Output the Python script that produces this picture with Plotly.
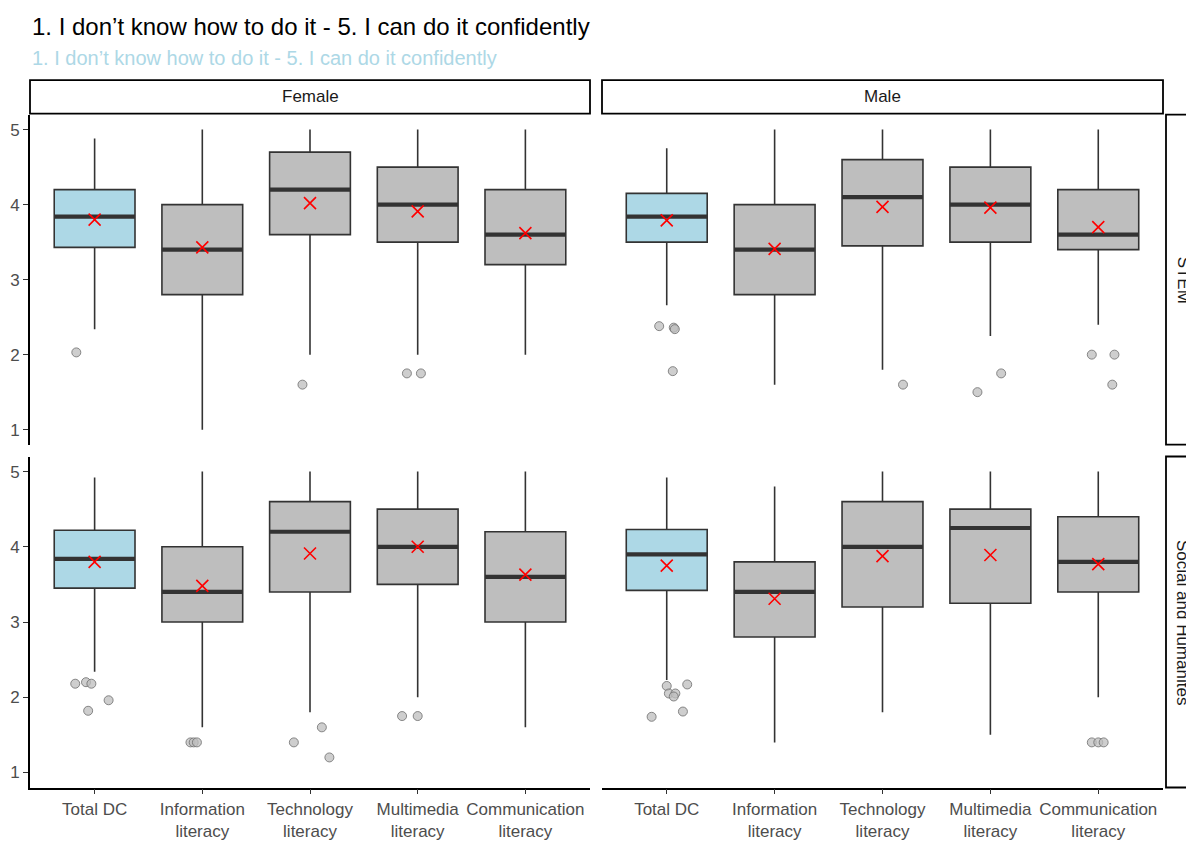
import plotly.graph_objects as go

W, H = 1186, 841

# ---- data -------------------------------------------------------------
categories = ["Total DC", "Information<br>literacy", "Technology<br>literacy",
              "Multimedia<br>literacy", "Communication<br>literacy"]
genders = ["Female", "Male"]
fields = ["STEM", "Social and Humanites"]

# Female / STEM
f_stem_lower = [2.34, 1.0, 2.0, 2.0, 2.0]
f_stem_q1 = [3.43, 2.8, 3.6, 3.5, 3.2]
f_stem_median = [3.84, 3.4, 4.2, 4.0, 3.6]
f_stem_q3 = [4.2, 4.0, 4.7, 4.5, 4.2]
f_stem_upper = [4.88, 5.0, 5.0, 5.0, 5.0]
f_stem_mean = [3.80, 3.43, 4.02, 3.91, 3.62]
f_stem_out_cat = [0, 2, 3, 3]
f_stem_out_val = [2.03, 1.6, 1.75, 1.75]
f_stem_out_jit = [-0.17, -0.07, -0.10, 0.03]

# Male / STEM
m_stem_lower = [2.66, 1.6, 1.8, 2.25, 2.4]
m_stem_q1 = [3.5, 2.8, 3.45, 3.5, 3.4]
m_stem_median = [3.84, 3.4, 4.1, 4.0, 3.6]
m_stem_q3 = [4.15, 4.0, 4.6, 4.5, 4.2]
m_stem_upper = [4.75, 5.0, 5.0, 5.0, 5.0]
m_stem_mean = [3.79, 3.41, 3.97, 3.96, 3.70]
m_stem_out_cat = [0, 0, 0, 0, 2, 3, 3, 4, 4, 4]
m_stem_out_val = [2.38, 2.36, 2.34, 1.78, 1.6, 1.75, 1.5, 2.0, 2.0, 1.6]
m_stem_out_jit = [-0.07, 0.065, 0.075, 0.056, 0.19, 0.10, -0.12, -0.06, 0.15, 0.13]

# Female / Social and Humanities
f_soc_lower = [2.34, 1.6, 1.8, 2.0, 1.6]
f_soc_q1 = [3.45, 3.0, 3.4, 3.5, 3.0]
f_soc_median = [3.84, 3.4, 4.2, 4.0, 3.6]
f_soc_q3 = [4.22, 4.0, 4.6, 4.5, 4.2]
f_soc_upper = [4.92, 5.0, 5.0, 5.0, 5.0]
f_soc_mean = [3.80, 3.48, 3.91, 4.0, 3.63]
f_soc_out_cat = [0, 0, 0, 0, 0, 1, 1, 1, 2, 2, 2, 3, 3]
f_soc_out_val = [2.18, 2.20, 2.18, 1.96, 1.82, 1.4, 1.4, 1.4, 1.4, 1.6, 1.2, 1.75, 1.75]
f_soc_out_jit = [-0.18, -0.08, -0.03, 0.13, -0.06, -0.11, -0.08, -0.05, -0.15, 0.11, 0.18, -0.145, 0.0]

# Male / Social and Humanities
m_soc_lower = [2.23, 1.4, 1.8, 1.5, 2.0]
m_soc_q1 = [3.42, 2.8, 3.2, 3.25, 3.4]
m_soc_median = [3.9, 3.4, 4.0, 4.25, 3.8]
m_soc_q3 = [4.23, 3.8, 4.6, 4.5, 4.4]
m_soc_upper = [4.92, 4.8, 5.0, 5.0, 5.0]
m_soc_mean = [3.75, 3.31, 3.875, 3.89, 3.77]
m_soc_out_cat = [0, 0, 0, 0, 0, 0, 0, 4, 4, 4]
m_soc_out_val = [2.15, 2.17, 2.05, 2.05, 2.01, 1.81, 1.74, 1.4, 1.4, 1.4]
m_soc_out_jit = [0.0, 0.19, 0.02, 0.08, 0.065, 0.15, -0.14, -0.06, 0.0, 0.05]

panels = [
    # (axis suffix, lower, q1, median, q3, upper, mean, out_cat, out_val, out_jit)
    ("", f_stem_lower, f_stem_q1, f_stem_median, f_stem_q3, f_stem_upper, f_stem_mean,
     f_stem_out_cat, f_stem_out_val, f_stem_out_jit),
    ("2", m_stem_lower, m_stem_q1, m_stem_median, m_stem_q3, m_stem_upper, m_stem_mean,
     m_stem_out_cat, m_stem_out_val, m_stem_out_jit),
    ("3", f_soc_lower, f_soc_q1, f_soc_median, f_soc_q3, f_soc_upper, f_soc_mean,
     f_soc_out_cat, f_soc_out_val, f_soc_out_jit),
    ("4", m_soc_lower, m_soc_q1, m_soc_median, m_soc_q3, m_soc_upper, m_soc_mean,
     m_soc_out_cat, m_soc_out_val, m_soc_out_jit),
]

# ---- styling ----------------------------------------------------------
BOX_W = 0.75
EDGE = "#333333"
FILL_TOTAL = "#add8e6"
FILL_OTHER = "#bebebe"
FONT = "Liberation Sans, Arial, sans-serif"
AXIS_TXT = "#4d4d4d"


def px_x(x):
    return x / W


def px_y(y):
    return 1 - y / H


fig = go.Figure()

xs = list(range(1, len(categories) + 1))

for suf, lo, q1, med, q3, up, mean, oc, ov, oj in panels:
    xa, ya = "x" + suf, "y" + suf
    groups = [([0], FILL_TOTAL), ([1, 2, 3, 4], FILL_OTHER)]
    for idx, fill in groups:
        fig.add_trace(go.Box(
            x=[xs[i] for i in idx],
            q1=[q1[i] for i in idx],
            median=[med[i] for i in idx],
            q3=[q3[i] for i in idx],
            lowerfence=[lo[i] for i in idx],
            upperfence=[up[i] for i in idx],
            width=BOX_W, whiskerwidth=0, boxpoints=False,
            fillcolor=fill, line=dict(color=EDGE, width=1.6),
            xaxis=xa, yaxis=ya, showlegend=False, hoverinfo="skip",
        ))
    # thick median bars
    mx, my = [], []
    for i, m in enumerate(med):
        mx += [xs[i] - BOX_W / 2, xs[i] + BOX_W / 2, None]
        my += [m, m, None]
    fig.add_trace(go.Scatter(x=mx, y=my, mode="lines",
                             line=dict(color=EDGE, width=4.2),
                             xaxis=xa, yaxis=ya, showlegend=False, hoverinfo="skip"))
    # jittered outliers
    fig.add_trace(go.Scatter(
        x=[xs[c] + j for c, j in zip(oc, oj)], y=ov, mode="markers",
        marker=dict(symbol="circle", size=9, color="rgba(190,190,190,0.75)",
                    line=dict(color="rgba(110,110,110,0.8)", width=1)),
        xaxis=xa, yaxis=ya, showlegend=False, hoverinfo="skip"))
    # means
    fig.add_trace(go.Scatter(
        x=xs, y=mean, mode="markers",
        marker=dict(symbol="x-thin", size=12, color="red",
                    line=dict(color="red", width=1.6)),
        xaxis=xa, yaxis=ya, showlegend=False, hoverinfo="skip"))

# panel geometry (pixels)
col_x = [(30, 590), (602, 1163)]
row_y = [(116, 450), (462, 797)]

axis_common = dict(showgrid=False, zeroline=False, fixedrange=True)
layout_axes = {}
k = 0
for r in range(2):
    for c in range(2):
        suf = "" if k == 0 else str(k + 1)
        x0, x1 = col_x[c]
        y0, y1 = row_y[r]
        xdict = dict(axis_common, domain=[px_x(x0), px_x(x1)], range=[0.4, 5.6],
                     anchor="y" + suf, tickvals=xs, ticktext=categories)
        ydict = dict(axis_common, domain=[px_y(y1), px_y(y0)], range=[0.8, 5.2],
                     anchor="x" + suf, tickvals=[1, 2, 3, 4, 5])
        if r == 1:
            xdict.update(showline=True, linecolor="#000000", linewidth=1.8,
                         ticks="outside", ticklen=5, tickwidth=1.3, tickcolor=EDGE,
                         showticklabels=True,
                         tickfont=dict(family=FONT, size=17, color=AXIS_TXT))
        else:
            xdict.update(showline=False, ticks="", showticklabels=False)
        if c == 0:
            ydict.update(showline=True, linecolor="#000000", linewidth=1.8,
                         ticks="outside", ticklen=5, tickwidth=1.3, tickcolor=EDGE,
                         showticklabels=True,
                         tickfont=dict(family=FONT, size=17, color=AXIS_TXT))
        else:
            ydict.update(showline=False, ticks="", showticklabels=False)
        layout_axes["xaxis" + suf] = xdict
        layout_axes["yaxis" + suf] = ydict
        k += 1

shapes = []
annotations = []

# column strips
for c, g in enumerate(genders):
    x0, x1 = col_x[c]
    shapes.append(dict(type="rect", xref="paper", yref="paper",
                       x0=px_x(x0), x1=px_x(x1), y0=px_y(115), y1=px_y(81),
                       fillcolor="white", line=dict(color="black", width=1.8)))
    annotations.append(dict(text=g, xref="paper", yref="paper",
                            x=px_x((x0 + x1) / 2), y=px_y(98), showarrow=False,
                            xanchor="center", yanchor="middle",
                            font=dict(family=FONT, size=17, color="#1a1a1a")))

# row strips
for r, f in enumerate(fields):
    y0, y1 = row_y[r]
    shapes.append(dict(type="rect", xref="paper", yref="paper",
                       x0=px_x(1166), x1=px_x(1200), y0=px_y(y1), y1=px_y(y0),
                       fillcolor="white", line=dict(color="black", width=1.8)))
    annotations.append(dict(text=f, xref="paper", yref="paper",
                            x=px_x(1183), y=px_y((y0 + y1) / 2), showarrow=False,
                            textangle=90, xanchor="center", yanchor="middle",
                            font=dict(family=FONT, size=17, color="#1a1a1a")))

# title and subtitle
title_text = "1. I don\u2019t know how to do it - 5. I can do it confidently"
annotations.append(dict(text=title_text, xref="paper", yref="paper",
                        x=px_x(30), y=px_y(27), showarrow=False,
                        xanchor="left", yanchor="middle",
                        font=dict(family=FONT, size=24, color="black")))
annotations.append(dict(text=title_text, xref="paper", yref="paper",
                        x=px_x(30), y=px_y(59), showarrow=False,
                        xanchor="left", yanchor="middle",
                        font=dict(family=FONT, size=20, color=FILL_TOTAL)))

fig.update_layout(
    width=W, height=H,
    margin=dict(l=0, r=0, t=0, b=0),
    paper_bgcolor="white", plot_bgcolor="white",
    boxmode="overlay",
    shapes=shapes, annotations=annotations,
    **layout_axes,
)

fig.write_html("out.html")
